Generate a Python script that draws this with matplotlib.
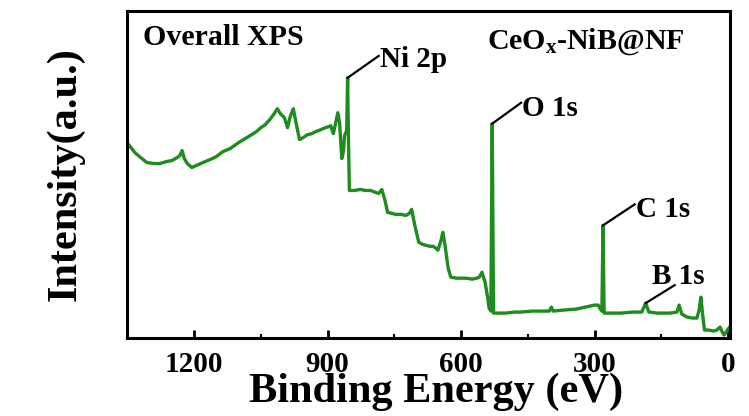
import matplotlib
matplotlib.use("Agg")
import matplotlib.pyplot as plt
from matplotlib.ticker import MultipleLocator

plt.rcParams['font.family'] = ['Liberation Serif', 'DejaVu Serif']
plt.rcParams['font.weight'] = 'bold'
plt.rcParams['mathtext.fontset'] = 'custom'
plt.rcParams['mathtext.rm'] = 'Liberation Serif:bold'
plt.rcParams['mathtext.bf'] = 'Liberation Serif:bold'
plt.rcParams['mathtext.it'] = 'Liberation Serif:bold'

# ---- data (binding energy in eV, intensity in arbitrary units) ----
energy = [1351, 1340, 1333, 1320, 1306, 1290, 1277, 1262, 1250, 1238, 1232, 1227, 1222,
          1215, 1205, 1190, 1175, 1164, 1150, 1135, 1119, 1100, 1085, 1074, 1060, 1050,
          1040, 1030, 1020, 1013, 1006, 997, 990, 984, 977, 970, 963, 955, 945, 935, 927,
          915, 905, 897, 893, 887, 880, 877, 873, 868, 864, 862, 857, 855, 853, 851, 840,
          826, 815, 803, 792, 785, 778, 771, 765, 755, 747, 735, 724, 716, 711, 704, 695,
          687, 679, 670, 663, 656, 652, 645, 641, 636, 629, 623, 610, 600, 589, 575, 565,
          559, 553, 546, 540, 537, 533, 530, 527, 523, 500, 480, 465, 440, 420, 402, 397,
          393, 370, 341, 320, 300, 292, 287, 283.5, 281, 278.5, 275, 260, 239, 215, 194,
          185, 178, 160, 149, 130, 115, 110, 104, 92, 80, 70, 65, 61, 57, 53, 45, 32, 25,
          18, 13, 9, 4, 0, -4]
intensity = [196, 190, 186, 181, 176, 175, 175, 177, 178, 181, 183, 188, 180,
             175, 171, 174, 177, 179, 182, 187, 190, 196, 200, 203, 207, 211,
             214, 219, 225, 230, 225, 221, 211, 222, 230, 214, 199, 201, 204, 205, 207,
             209, 211, 212, 213, 205, 220, 226, 216, 180, 188, 203, 208, 261, 198, 148, 148,
             149, 148, 148, 146, 145, 149, 138, 126, 125, 124, 124, 123, 125, 129, 113, 96,
             94, 93, 92, 92, 90, 88, 98, 106, 93, 70, 61, 60, 60, 60, 59, 60,
             61, 66, 56, 40, 30, 27, 215, 25, 25, 25, 26, 26, 27, 27, 27, 31,
             27, 28, 29, 31, 33, 33, 29, 27, 113, 25, 25, 25, 25, 26, 26,
             35, 26, 25, 25, 25, 26, 33, 24, 21, 20, 20, 28, 41, 23, 8, 8, 7, 8,
             11, 6, 3, 6, 9, 11]

peak_labels = ['Ni 2p', 'O 1s', 'C 1s', 'B 1s']
peak_pos = [855, 530, 281, 185]
peak_top = [261, 215, 113, 35]
label_x = [783, 462, 207.5, 171]
label_y = [272, 223, 121, 54]
line_end_x = [785, 465, 210, 120]
line_end_y = [283, 236, 134, 53]

x_ticks = [1200, 900, 600, 300, 0]

fig = plt.figure(figsize=(7.49, 4.16), dpi=100)
ax = fig.add_axes([0.170, 0.1875, 0.805, 0.7860])

ax.plot(energy, intensity, color='#1e8c1e', lw=2.4)

for lab, px, pt, lx, ly, ex, ey in zip(peak_labels, peak_pos, peak_top, label_x, label_y,
                                        line_end_x, line_end_y):
    ax.plot([px, ex], [pt, ey], color='black', lw=1.6)
    ax.text(lx, ly, lab, fontsize=21, fontweight='bold', ha='left', va='baseline')

ax.text(0.0265, 0.896, 'Overall XPS', transform=ax.transAxes, fontsize=21.5,
        fontweight='bold', ha='left', va='baseline')
ax.text(0.597, 0.884, r'CeO$_\mathbf{x}$-NiB@NF', transform=ax.transAxes, fontsize=21.5,
        fontweight='bold', ha='left', va='baseline')

ax.set_xlim(1350, -5)
ax.set_ylim(0, 328)
ax.set_xticks(x_ticks)
ax.set_xticklabels([str(t) for t in x_ticks])
ax.xaxis.set_minor_locator(MultipleLocator(150))
ax.tick_params(axis='x', which='major', direction='in', length=6, width=2,
               labelsize=21, pad=9)
ax.tick_params(axis='x', which='minor', direction='in', length=3, width=1.5)
ax.set_yticks([])
for s in ax.spines.values():
    s.set_linewidth(2.2)

ax.set_xlabel('Binding Energy (eV)', fontsize=30.5, fontweight='bold', labelpad=-3.5,
              x=0.512)
ax.set_ylabel('Intensity(a.u.)', fontsize=30.5, fontweight='bold', labelpad=31)

fig.savefig('out.png', dpi=100)
